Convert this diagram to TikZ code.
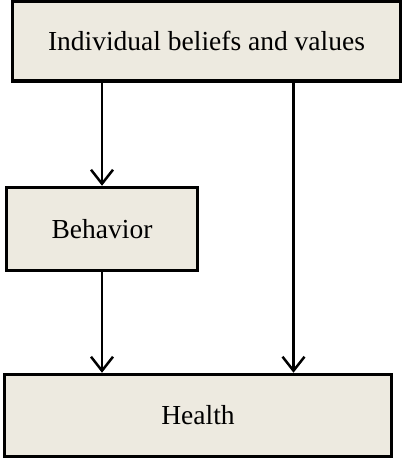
\documentclass[tikz,border=0pt]{standalone}
\usepackage{fontspec}
\setmainfont{Liberation Serif}
\usetikzlibrary{arrows.meta}

\tikzset{
    box/.style={draw=black, line width=3.5pt, fill=boxfill, inner sep=0pt,
        font=\fontsize{27.5}{32}\selectfont},
    arr/.style={-{Straight Barb[length=14pt,width=22pt,line width=2.5pt]}, line width=2.5pt}
}
\definecolor{boxfill}{HTML}{EDEAE0}

\begin{document}
\begin{tikzpicture}[x=1pt,y=-1pt]
        \useasboundingbox (0,0) rectangle (403,462);

        %%%%%%%%%% Nodi %%%%%%%%%%
        \node[box, minimum width=388pt, minimum height=80pt] (beliefs) at (206.5,41) {Individual beliefs and values};
        \node[box, minimum width=191pt, minimum height=83pt] (behavior) at (102,229) {Behavior};
        \node[box, minimum width=387pt, minimum height=82pt] (health) at (198,415.5) {Health};

        %%%%%%%%% Frecce %%%%%%%%%
        \draw[arr] (beliefs.south -| behavior.north) -- (behavior.north);
        \draw[arr] (behavior.south) -- (behavior.south |- health.north);
        \draw[arr] ([xshift=87pt]beliefs.south) -- ([xshift=87pt]beliefs.south |- health.north);
    \end{tikzpicture}
\end{document}
